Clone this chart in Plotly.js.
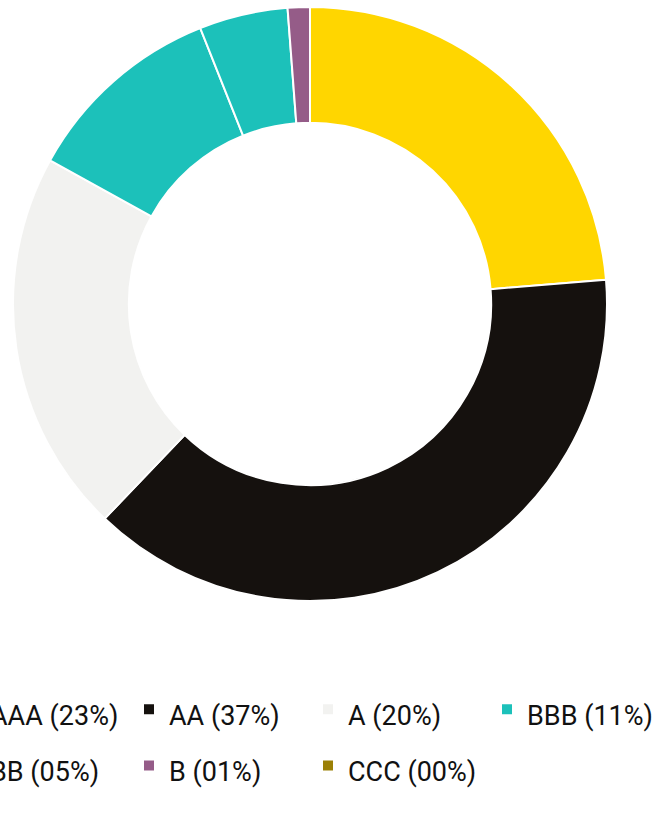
<!DOCTYPE html>
<html>
<head>
<meta charset="utf-8">
<script src="https://cdn.plot.ly/plotly-3.0.1.min.js"></script>
<style>
  html, body { margin: 0; padding: 0; overflow: hidden; background: #ffffff; width: 654px; height: 819px; }
  #chart { position: absolute; left: -50px; top: 0; width: 800px; height: 819px; }
</style>
</head>
<body>
<div id="chart"></div>
<script>
// Credit rating categories
const ratings = ["AAA", "AA", "A", "BBB", "BB", "B", "CCC"];
// Share of portfolio (%)
const shares = [23.6, 38.3, 20.8, 10.9, 4.8, 1.2, 0];
// Rounded percentages shown in the legend
const shareLabels = ["23%", "37%", "20%", "11%", "05%", "01%", "00%"];
// Slice colours
const sliceColors = ["#FFD600", "#15110E", "#F2F2F0", "#1CC1BA", "#1CC1BA", "#955C88", "#9B8006"];

const labels = ratings.map((r, i) =>
  '<span style="font-size:27px">' + r + ' (' + shareLabels[i] + ')</span>');

const W = 800, H = 819;
const trace = {
  type: 'pie',
  labels: labels,
  values: shares,
  sort: false,
  direction: 'clockwise',
  rotation: 0,
  hole: 0.61,
  textinfo: 'none',
  hoverinfo: 'label+value',
  marker: { colors: sliceColors, line: { color: '#ffffff', width: 2 } },
  domain: { x: [63 / W, 657 / W], y: [1 - 601 / H, 1 - 7 / H] }
};

const layout = {
  width: W,
  height: H,
  margin: { l: 0, r: 0, t: 0, b: 0, autoexpand: false },
  paper_bgcolor: '#ffffff',
  showlegend: true,
  legend: {
    orientation: 'h',
    x: 0,
    xanchor: 'left',
    y: 1 - 676 / H,
    yanchor: 'top',
    entrywidth: 134,
    entrywidthmode: 'pixels',
    bgcolor: 'rgba(0,0,0,0)',
    font: { family: 'Roboto, "Liberation Sans", Arial, sans-serif', size: 41, color: '#111111' }
  }
};

Plotly.newPlot('chart', [trace], layout, { displayModeBar: false, staticPlot: true });
</script>
</body>
</html>
